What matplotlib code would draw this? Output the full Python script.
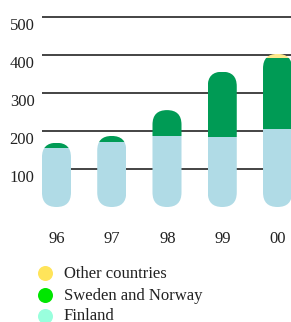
import matplotlib
matplotlib.use("Agg")
import matplotlib.pyplot as plt
from matplotlib.patches import FancyBboxPatch
from matplotlib.lines import Line2D
from matplotlib.transforms import ScaledTranslation, blended_transform_factory

years = ["96", "97", "98", "99", "00"]
finland = [156, 171, 187, 184, 205]
sweden_norway = [13, 16, 68, 172, 187]
other = [0, 0, 0, 0, 11]
grid_values = [100, 200, 300, 400, 500]
legend_labels = ["Other countries", "Sweden and Norway", "Finland"]

bar_colors = {"fin": "#b0dbe6", "swe": "#009b55", "oth": "#fde98c"}
legend_colors = ["#ffe45a", "#00e600", "#99ffdd"]

W, H, DPI = 291, 322, 100
fig = plt.figure(figsize=(W / DPI, H / DPI), dpi=DPI)
plt.rcParams["font.family"] = ["Liberation Serif", "DejaVu Serif"]
FS = 12

ax_left, ax_right, ax_top, ax_bottom = 42, 291, 9.4, 207
ax = fig.add_axes([ax_left / W, 1 - ax_bottom / H, (ax_right - ax_left) / W, (ax_bottom - ax_top) / H])
ax.set_xlim(-0.262, 4.244)
ax.set_ylim(0, 520)
ax.axis("off")

for g in grid_values:
    ax.axhline(g, color="#111111", lw=1.1, zorder=1)

x = list(range(len(years)))
bw = 0.525
px_x = (ax_right - ax_left) / (4.244 + 0.262)
px_y = (ax_bottom - ax_top) / 520
aspect = px_x / px_y

for i in x:
    total = finland[i] + sweden_norway[i] + other[i]
    cap = FancyBboxPatch((i - bw / 2, 0), bw, total,
                         boxstyle=f"round,pad=0,rounding_size={bw / 2 * 0.999}",
                         mutation_aspect=aspect, transform=ax.transData)
    segs = [(0, finland[i], bar_colors["fin"]),
            (finland[i], sweden_norway[i], bar_colors["swe"]),
            (finland[i] + sweden_norway[i], other[i], bar_colors["oth"])]
    for bottom, h, c in segs:
        if h <= 0:
            continue
        bars = ax.bar(i, h, bottom=bottom, width=bw, color=c, zorder=2, linewidth=0)
        for b in bars:
            b.set_clip_path(cap)

# y labels
ytr = ax.get_yaxis_transform() + ScaledTranslation(0, -13 / DPI, fig.dpi_scale_trans)
for g in grid_values:
    ax.text((34.5 - ax_left) / (ax_right - ax_left), g, str(g), transform=ytr,
            ha="right", va="baseline", fontsize=FS, color="#222222", clip_on=False)

# x labels
xtr = blended_transform_factory(ax.transData, fig.transFigure)
for i, yl in zip(x, years):
    ax.text(i + 0.01, 1 - 242.7 / H, yl, transform=xtr, ha="center", va="baseline",
            fontsize=FS, color="#222222", clip_on=False)

# legend
ly = [273.3, 295, 315.5]
for yy, lab, c in zip(ly, legend_labels, legend_colors):
    fig.add_artist(Line2D([45 / W], [1 - yy / H], marker="o", markersize=10.8,
                          color=c, markeredgewidth=0, transform=fig.transFigure))
    fig.text(64 / W, 1 - (yy + 5) / H, lab, ha="left", va="baseline", fontsize=FS, color="#222222")

fig.savefig("out.png", dpi=DPI)
